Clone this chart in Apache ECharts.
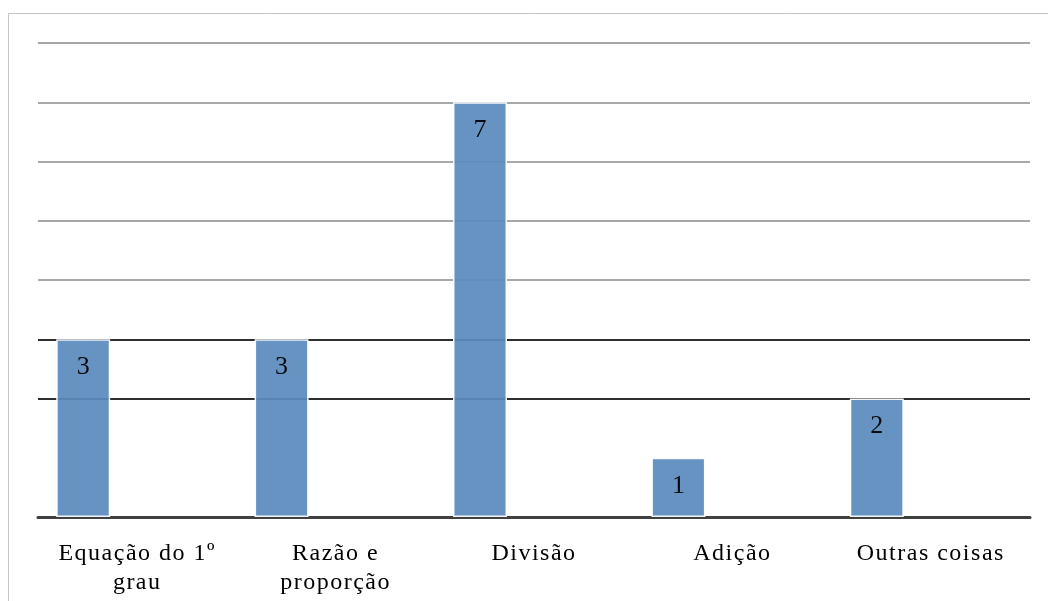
<!DOCTYPE html>
<html style="height: 100%">
<head>
<meta charset="utf-8">
<style type="text/css">
* { margin: 0; padding: 0; }
</style>
</head>
<body style="height: 100%; margin: 0; background: #fff">
	<div id="main" style="width: 1048px; height: 601px"></div>
	<script type="text/javascript" src="https://cdn.jsdelivr.net/npm/echarts@6/dist/echarts.min.js"></script>
	<script type="text/javascript">
	var categories = ['Equação do 1º\ngrau', 'Razão e\nproporção', 'Divisão', 'Adição', 'Outras coisas'];
	var values = [3, 3, 7, 1, 2];
	// grid line colours from 0 up to 8 (line at 1 is not drawn in the original)
	var gridColors = ['#404040', 'rgba(0,0,0,0)', '#2e2e2e', '#2e2e2e', '#a8a8a8', '#a8a8a8', '#a8a8a8', '#a8a8a8', '#a8a8a8'];

	var fontFam = '"Liberation Serif", "Times New Roman", serif';

	// the original text is drawn with a bit of letter spacing, echarts has no option for it
	var origFill = CanvasRenderingContext2D.prototype.fillText;
	CanvasRenderingContext2D.prototype.fillText = function (t, x, y, w) {
		if (this.font.indexOf('Liberation Serif') >= 0 && String(t).length > 1) {
			this.letterSpacing = '1.5px';
		}
		var r = w === undefined ? origFill.call(this, t, x, y) : origFill.call(this, t, x, y, w);
		this.letterSpacing = '0px';
		return r;
	};

	var myChart = echarts.init(document.getElementById('main'));

	var option = {
		backgroundColor: '#fff',
		animation: false,
		graphic: [{
			type: 'rect',
			shape: { x: 8.5, y: 13.5, width: 1060, height: 620 },
			style: { fill: 'none', stroke: '#c4c4c4', lineWidth: 1 },
			z: -1
		}],
		grid: { left: 38, right: 18, top: 43, bottom: 84 },
		xAxis: {
			type: 'category',
			data: categories,
			axisLine: { show: true, lineStyle: { color: '#404040', width: 3 } },
			axisTick: { show: false },
			axisLabel: {
				color: '#000',
				fontFamily: fontFam,
				fontSize: 24,
				lineHeight: 29,
				margin: 22
			}
		},
		yAxis: {
			type: 'value',
			min: 0,
			max: 8,
			interval: 1,
			axisLabel: { show: false },
			axisLine: { show: false },
			axisTick: { show: false },
			splitLine: { show: true, lineStyle: { color: gridColors, width: 2 } }
		},
		series: [{
			type: 'bar',
			data: values,
			barWidth: 54,
			barGap: '0%',
			itemStyle: { color: '#5a8bbd', opacity: 0.93, borderColor: '#fff', borderWidth: 1.5 },
			label: {
				show: true,
				position: 'insideTop',
				distance: 15,
				color: '#000',
				fontFamily: fontFam,
				fontSize: 26
			},
			z: 3
		}, {
			type: 'bar',
			data: [null, null, null, null, null],
			barWidth: 54
		}, {
			type: 'bar',
			data: [null, null, null, null, null],
			barWidth: 54
		}]
	};
	myChart.setOption(option);
	</script>
</body>
</html>
